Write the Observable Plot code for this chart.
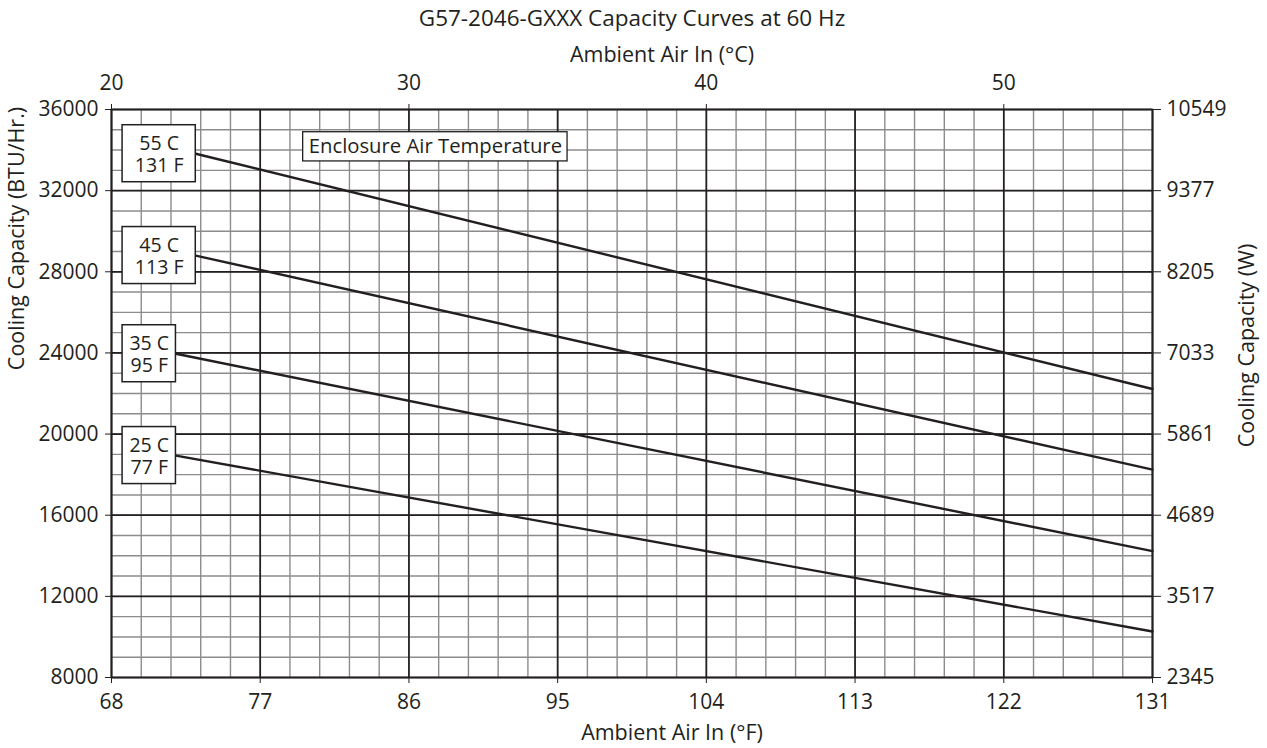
<!DOCTYPE html>
<html><head><meta charset="utf-8">
<script src="https://cdn.jsdelivr.net/npm/d3@7"></script>
<script src="https://cdn.jsdelivr.net/npm/@observablehq/plot@0.6"></script>
<style>
body{margin:0;background:#fff;font-family:"Open Sans",sans-serif;color:#231f20}
#title{position:relative;width:1267px;height:32px;font-size:22.5px;}
#title span{position:absolute;left:632px;top:5px;transform:translateX(-50%);white-space:nowrap;line-height:26px}
</style></head><body>
<div id="title"><span>G57-2046-GXXX Capacity Curves at 60 Hz</span></div>
<div id="chart"></div>
<script>
// Series (enclosure air temperature curves)
const seriesNames = ["55 C\n131 F", "45 C\n113 F", "35 C\n95 F", "25 C\n77 F"];
const startF   = [73.1, 73.1, 71.9, 71.9];
const startBTU = [33820, 28800, 23960, 18940];
const endF     = [131, 131, 131, 131];
const endBTU   = [22220, 18250, 14230, 10270];

// Axes
const fTicks = [68, 77, 86, 95, 104, 113, 122, 131];
const cTickLabels = [20, 30, 40, 50];
const btuTicks = [8000, 12000, 16000, 20000, 24000, 28000, 32000, 36000];
const wattLabels = ["2345", "3517", "4689", "5861", "7033", "8205", "9377", "10549"];
const xLabelF = "Ambient Air In (°F)";
const xLabelC = "Ambient Air In (°C)";
const yLabelBTU = "Cooling Capacity (BTU/Hr.)";
const yLabelW = "Cooling Capacity (W)";
const annotation = "Enclosure Air Temperature";

const lineRows = [];
seriesNames.forEach((n, i) => {
  lineRows.push({name: n, F: startF[i], BTU: startBTU[i]});
  lineRows.push({name: n, F: endF[i], BTU: endBTU[i]});
});
const boxRows = seriesNames.map((n, i) => ({name: n, F: startF[i], BTU: startBTU[i]}));
const cTicksF = cTickLabels.map(c => c * 9 / 5 + 32);
const minorX = d3.range(0, 36).map(i => 68 + i * 1.8);
const minorY = d3.range(8000, 36001, 1000);
const boxLeftF = 68.67, boxHalf = 1405;

const ink = "#231f20";
const chart = Plot.plot({
  width: 1267, height: 716,
  marginLeft: 111, marginRight: 115, marginTop: 77, marginBottom: 71,
  x: {domain: [68, 131]},
  y: {domain: [8000, 36000]},
  style: {fontFamily: "'Open Sans', sans-serif", fontSize: "21px", color: ink, background: "#fff"},
  marks: [
    Plot.ruleX(minorX, {stroke: "#8c8c8c", strokeWidth: 1.4}),
    Plot.ruleY(minorY, {stroke: "#8c8c8c", strokeWidth: 1.4}),
    Plot.ruleX(fTicks, {stroke: ink, strokeWidth: 1.7}),
    Plot.ruleY(btuTicks, {stroke: ink, strokeWidth: 1.7}),
    Plot.frame({stroke: ink, strokeWidth: 1.7}),
    Plot.line(lineRows, {x: "F", y: "BTU", z: "name", stroke: ink, strokeWidth: 2.4}),
    Plot.rect(boxRows, {x1: () => boxLeftF, x2: "F", y1: d => d.BTU - boxHalf, y2: d => d.BTU + boxHalf, fill: "#fff", stroke: ink, strokeWidth: 1.5}),
    Plot.text(boxRows, {x: d => (boxLeftF + d.F) / 2, y: "BTU", text: "name", fontSize: 19.5, lineHeight: 1.15, fill: ink}),
    Plot.rect([annotation], {x1: 79.6, x2: 95.6, y1: 33440, y2: 34880, fill: "#fff", stroke: ink, strokeWidth: 1.3}),
    Plot.text([annotation], {x: 87.6, y: 34160, text: d => d, fontSize: 20.3, fill: ink}),
    Plot.axisX({anchor: "bottom", ticks: fTicks, tickSize: 6, tickPadding: 11, label: null}),
    Plot.axisX({anchor: "top", ticks: cTicksF, tickFormat: (d, i) => String(cTickLabels[i]), tickSize: 6, tickPadding: 14, label: null}),
    Plot.axisY({anchor: "left", ticks: btuTicks, tickSize: 6, tickPadding: 7, tickFormat: d => String(d), label: null}),
    Plot.axisY({anchor: "right", ticks: btuTicks, tickFormat: (d, i) => wattLabels[i], tickSize: 8, tickPadding: 6, label: null}),
    Plot.text([xLabelF], {frameAnchor: "bottom", dy: 56, dx: 40, text: d => d, textAnchor: "middle", lineAnchor: "middle", fontSize: 21.5, fill: ink}),
    Plot.text([xLabelC], {frameAnchor: "top", dy: -54, dx: 30, text: d => d, textAnchor: "middle", lineAnchor: "middle", fontSize: 21.5, fill: ink}),
    Plot.text([yLabelBTU], {frameAnchor: "left", dx: -94, dy: -155, rotate: -90, text: d => d, textAnchor: "middle", lineAnchor: "middle", fontSize: 21.5, fill: ink}),
    Plot.text([yLabelW], {frameAnchor: "right", dx: 95, dy: -48, rotate: -90, text: d => d, textAnchor: "middle", lineAnchor: "middle", fontSize: 21.5, fill: ink})
  ]
});
document.getElementById("chart").appendChild(chart);
</script>
</body></html>
